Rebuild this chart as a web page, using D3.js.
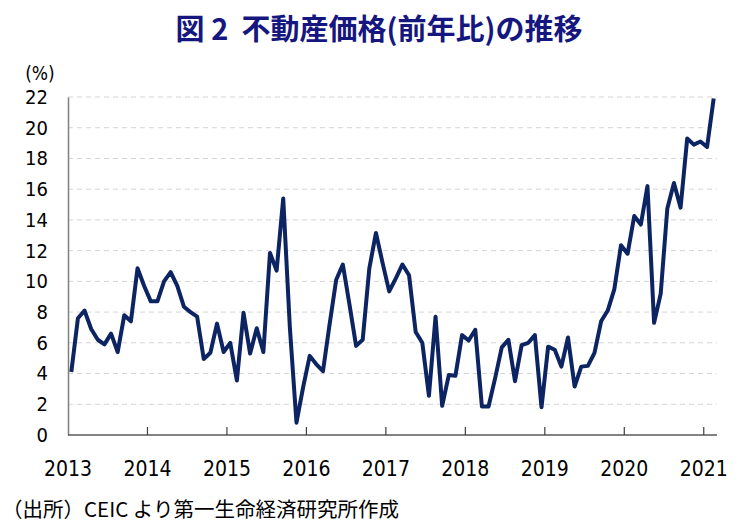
<!DOCTYPE html>
<html>
<head>
<meta charset="utf-8">
<script src="https://cdn.jsdelivr.net/npm/d3@7"></script>
<style>
  body { margin: 0; background: #ffffff; }
  svg { display: block; }
</style>
</head>
<body>
<div id="chart"></div>
<script>
// Monthly data, Jan 2013 - Feb 2021 (%, y/y)
var startYear = 2013;
var values = [
  4.1, 7.6, 8.1, 6.9, 6.2, 5.9, 6.6, 5.4, 7.8, 7.4, 10.85, 9.7,
  8.7, 8.7, 10.0, 10.6, 9.7, 8.35, 8.0, 7.7, 4.95, 5.35, 7.25, 5.4,
  6.0, 3.55, 7.95, 5.3, 6.95, 5.4, 11.85, 10.7, 15.4, 7.0, 0.8, 3.1,
  5.15, 4.6, 4.15, 7.2, 10.1, 11.1, 8.5, 5.8, 6.2, 10.85, 13.15, 11.2,
  9.35, 10.2, 11.1, 10.4, 6.7, 6.0, 2.55, 7.7, 1.9, 3.9, 3.85, 6.5,
  6.15, 6.85, 1.85, 1.85, 3.7, 5.7, 6.2, 3.5, 5.85, 6.0, 6.5, 1.8,
  5.75, 5.55, 4.45, 6.35, 3.15, 4.45, 4.5, 5.35, 7.4, 8.1, 9.5, 12.35,
  11.8, 14.25, 13.7, 16.2, 7.3, 9.2, 14.75, 16.4, 14.8, 19.3, 18.9, 19.1,
  18.75, 21.9
];
var yearLabels = ["2013", "2014", "2015", "2016", "2017", "2018", "2019", "2020", "2021"];
var yTicks = [0, 2, 4, 6, 8, 10, 12, 14, 16, 18, 20, 22];

var titleText = "図 2\u00a0\u00a0不動産価格(前年比)の推移";
var unitText = "(%)";
var sourceText = "（出所）CEIC より第一生命経済研究所作成";

// Canvas
var svgWidth = 740;
var svgHeight = 530;

var plot = { left: 68, right: 717, top: 97, bottom: 435 };

var svg = d3.select("#chart")
  .append("svg")
  .attr("width", svgWidth)
  .attr("height", svgHeight);

var numFont = "'Liberation Sans Narrow', 'DejaVu Sans Condensed', 'Liberation Sans', sans-serif";
var jpFont = "'Noto Sans CJK JP', 'Noto Sans', sans-serif";

// Scales
var xScale = d3.scaleBand()
  .domain(d3.range(values.length))
  .range([plot.left, plot.right])
  .padding(0);

var yScale = d3.scaleLinear()
  .domain([0, 22])
  .range([plot.bottom, plot.top]);

// Gridlines (dashed)
svg.append("g")
  .selectAll("line")
  .data(yTicks.filter(d => d > 0))
  .enter()
  .append("line")
  .attr("x1", plot.left)
  .attr("x2", plot.right)
  .attr("y1", d => yScale(d))
  .attr("y2", d => yScale(d))
  .attr("stroke", "#d4d4d4")
  .attr("stroke-width", 1)
  .attr("stroke-dasharray", "5,4");

// Y axis
var leftAxis = d3.axisLeft(yScale)
  .tickValues(yTicks)
  .tickSize(0)
  .tickPadding(20);

var yAxisG = svg.append("g")
  .attr("transform", `translate(${plot.left}, 0)`)
  .call(leftAxis);

yAxisG.select(".domain")
  .attr("stroke", "#7f7f7f")
  .attr("stroke-width", 1.5);

yAxisG.selectAll("text")
  .style("font-family", numFont)
  .style("font-size", "20px")
  .attr("fill", "#000");

// X axis: tick marks at year boundaries, pointing up
var yearPos = yearLabels.map((d, i) => i * 12);

var xAxisG = svg.append("g")
  .attr("transform", `translate(0, ${plot.bottom})`);

xAxisG.append("line")
  .attr("x1", plot.left)
  .attr("x2", plot.right)
  .attr("stroke", "#595959")
  .attr("stroke-width", 1.5);

xAxisG.selectAll(".tick")
  .data(yearPos.slice(1))
  .enter()
  .append("line")
  .attr("class", "tick")
  .attr("x1", d => xScale(d))
  .attr("x2", d => xScale(d))
  .attr("y1", 0)
  .attr("y2", -8)
  .attr("stroke", "#404040")
  .attr("stroke-width", 1.2);

xAxisG.selectAll(".year")
  .data(yearLabels)
  .enter()
  .append("text")
  .attr("class", "year")
  .attr("x", (d, i) => xScale(yearPos[i]))
  .attr("y", 41)
  .attr("text-anchor", "middle")
  .style("font-family", numFont)
  .style("font-size", "21px")
  .attr("fill", "#000")
  .text(d => d);

// Line
var line = d3.line()
  .x((d, i) => xScale(i) + xScale.bandwidth() / 2)
  .y(d => yScale(d));

svg.append("path")
  .datum(values)
  .attr("d", line)
  .attr("fill", "none")
  .attr("stroke", "#0c2461")
  .attr("stroke-width", 4)
  .attr("stroke-linejoin", "round");

// Title
svg.append("text")
  .attr("x", 379)
  .attr("y", 40)
  .attr("text-anchor", "middle")
  .style("font-family", jpFont)
  .style("font-weight", "bold")
  .style("font-size", "29px")
  .attr("fill", "#16167f")
  .text(titleText);

// Unit label
svg.append("text")
  .attr("x", 40)
  .attr("y", 80)
  .attr("text-anchor", "middle")
  .style("font-family", numFont)
  .style("font-size", "19px")
  .attr("fill", "#000")
  .text(unitText);

// Source note
svg.append("text")
  .attr("x", 2)
  .attr("y", 517)
  .style("font-family", jpFont)
  .style("font-size", "20.5px")
  .attr("fill", "#000")
  .text(sourceText);
</script>
</body>
</html>
